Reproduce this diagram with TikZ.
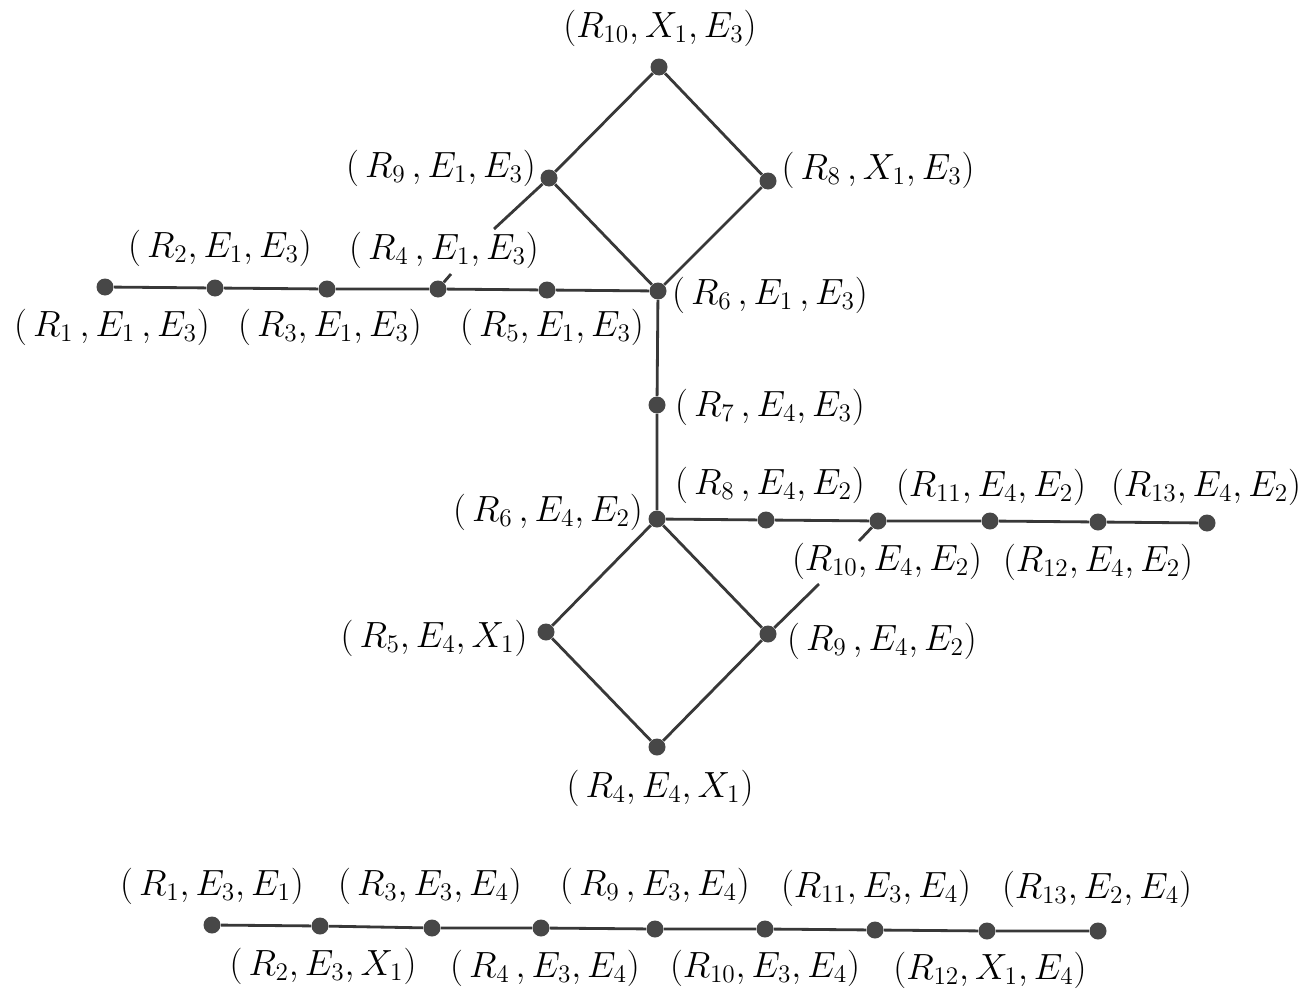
\documentclass[tikz,border=0pt]{standalone}
\begin{document}
\begin{tikzpicture}[x=0.02cm,y=-0.02cm,
  dot/.style={circle,fill=black!72,draw=none,inner sep=0pt,minimum size=0.34cm},
  lab/.style={inner sep=0pt,font=\fontsize{19.5}{22}\selectfont},
  edge/.style={line width=1.6pt,draw=black!78}]
\useasboundingbox (0,0) rectangle (1306,994);
% upper diamond and left line
\node[dot] (t10) at (659,67) {};
\node[dot] (t9) at (549,178) {};
\node[dot] (t8) at (768,181) {};
\node[dot] (t6) at (658,291) {};
\node[dot] (a1) at (105,287) {};
\node[dot] (a2) at (215,288) {};
\node[dot] (a3) at (327,289) {};
\node[dot] (a4) at (438,289) {};
\node[dot] (a5) at (547,290) {};
\node[dot] (m7) at (657,405) {};
\node[dot] (b6) at (657,519) {};
\node[dot] (r8) at (766,520) {};
\node[dot] (r10) at (878,521) {};
\node[dot] (r11) at (990,521) {};
\node[dot] (r12) at (1098,522) {};
\node[dot] (r13) at (1207,523) {};
\node[dot] (b5) at (546,632) {};
\node[dot] (b9) at (768,634) {};
\node[dot] (b4) at (657,747) {};
% bottom line
\node[dot] (c1) at (212,925) {};
\node[dot] (c2) at (320,926) {};
\node[dot] (c3) at (432,928) {};
\node[dot] (c4) at (541,928) {};
\node[dot] (c5) at (655,929) {};
\node[dot] (c6) at (765,929) {};
\node[dot] (c7) at (875,930) {};
\node[dot] (c8) at (987,931) {};
\node[dot] (c9) at (1098,931) {};
% stub ends
\coordinate (s1) at (494,229);
\coordinate (s2) at (451,274);
\coordinate (s3) at (859,541);
\coordinate (s4) at (819,584);
% edges
\draw[edge] (t10) -- (t9) -- (t6) -- (t8) -- (t10);
\draw[edge] (a1) -- (a2) -- (a3) -- (a4) -- (a5) -- (t6);
\draw[edge] (t6) -- (m7) -- (b6);
\draw[edge] (b6) -- (r8) -- (r10) -- (r11) -- (r12) -- (r13);
\draw[edge] (b6) -- (b5) -- (b4) -- (b9) -- (b6);
\draw[edge] (c1) -- (c2) -- (c3) -- (c4) -- (c5) -- (c6) -- (c7) -- (c8) -- (c9);
\draw[edge] (t9) -- (s1);
\draw[edge] (a4) -- (s2);
\draw[edge] (r10) -- (s3);
\draw[edge] (b9) -- (s4);
% labels
\node[lab] (l1) at (660,28) {$(R_{10},X_1,E_3)$};
\node[lab] (l2) at (441,168) {$(\,R_9\,,E_1,E_3)$};
\node[lab] (l3) at (878,170) {$(\,R_8\,,X_1,E_3)$};
\node[lab] (l4) at (220,248) {$(\,R_2,E_1,E_3)$};
\node[lab] (l5) at (444,250) {$(\,R_4\,,E_1,E_3)$};
\node[lab] (l6) at (112,327) {$(\,R_1\,,E_1\,,E_3)$};
\node[lab] (l7) at (330,327) {$(\,R_3,E_1,E_3)$};
\node[lab] (l8) at (552,327) {$(\,R_5,E_1,E_3)$};
\node[lab] (l9) at (770,295) {$(\,R_6\,,E_1\,,E_3)$};
\node[lab] (l10) at (770,407) {$(\,R_7\,,E_4,E_3)$};
\node[lab] (l11) at (548,512) {$(\,R_6\,,E_4,E_2)$};
\node[lab] (l12) at (770,485) {$(\,R_8\,,E_4,E_2)$};
\node[lab] (l13) at (991,487) {$(R_{11},E_4,E_2)$};
\node[lab] (l14) at (1206,487) {$(R_{13},E_4,E_2)$};
\node[lab] (l15) at (887,561) {$(R_{10},E_4,E_2)$};
\node[lab] (l16) at (1098,562) {$(R_{12},E_4,E_2)$};
\node[lab] (l17) at (434,638) {$(\,R_5,E_4,X_1)$};
\node[lab] (l18) at (882,641) {$(\,R_9\,,E_4,E_2)$};
\node[lab] (l19) at (660,788) {$(\,R_4,E_4,X_1)$};
\node[lab] (l20) at (212,886) {$(\,R_1,E_3,E_1)$};
\node[lab] (l21) at (430,886) {$(\,R_3,E_3,E_4)$};
\node[lab] (l22) at (655,886) {$(\,R_9\,,E_3,E_4)$};
\node[lab] (l23) at (876,888) {$(R_{11},E_3,E_4)$};
\node[lab] (l24) at (1097,889) {$(R_{13},E_2,E_4)$};
\node[lab] (l25) at (323,966) {$(\,R_2,E_3,X_1)$};
\node[lab] (l26) at (545,968) {$(\,R_4\,,E_3,E_4)$};
\node[lab] (l27) at (765,968) {$(R_{10},E_3,E_4)$};
\node[lab] (l28) at (990,970) {$(R_{12},X_1,E_4)$};
\end{tikzpicture}
\end{document}
